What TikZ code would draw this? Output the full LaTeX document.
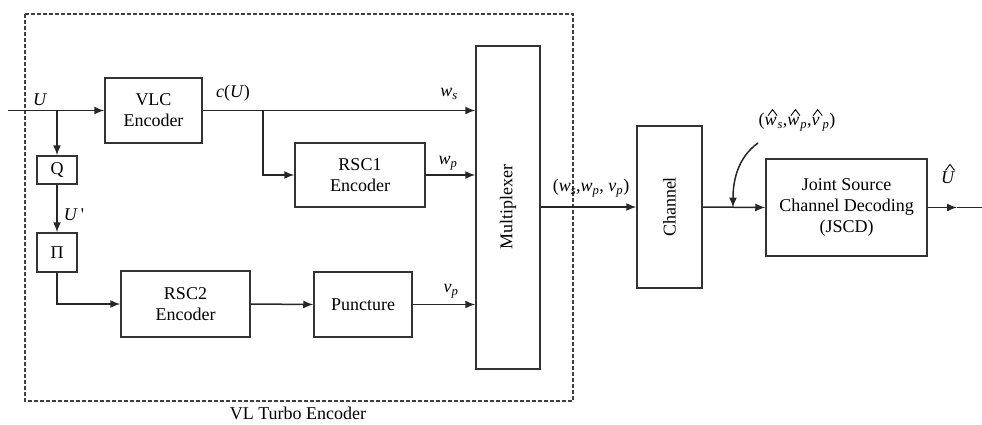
\documentclass[tikz,border=0pt]{standalone}
\usepackage{fontspec}
\setmainfont{Liberation Serif}
\newfontfamily\tnr{Liberation Serif}
\usetikzlibrary{arrows.meta}
\newcommand\iv[1]{\textit{#1}}
\newcommand\sbs[1]{\textsubscript{\textit{#1}}}
\newcommand\hatit[1]{\tikz[x=1pt,y=1pt,baseline=(h.base)]{\node[inner sep=0pt,font=\tnr\fontsize{18}{21}\selectfont](h){\textit{#1}};\draw[line width=0.9pt,line join=miter] ([xshift=-2.5pt,yshift=1.5pt]h.north) -- ++(4.5pt,6pt) -- ++(4.5pt,-6pt);}}
\begin{document}
\begin{tikzpicture}[x=1pt,y=-1pt,
  every node/.style={font=\tnr\fontsize{18}{21}\selectfont},
  box/.style={draw=black!80, line width=1.5pt, align=center, inner sep=0pt},
  ln/.style={draw=black!85, line width=1.5pt},
  arr/.style={ln, -{Latex[length=10pt,width=8pt]}},
  lbl/.style={inner sep=0pt}]
\useasboundingbox (0,0) rectangle (982,425);
% dashed frame
\draw[draw=black!75, line width=1.3pt, dash pattern=on 4pt off 2pt] (25,14) rectangle (573,401);
\node[lbl] (flab) at (298,413) {VL Turbo Encoder};
% boxes
\node[box, minimum width=97pt, minimum height=65pt] (vlc) at (153.5,110.5) {VLC\\Encoder};
\node[box, minimum width=40pt, minimum height=28pt] (q) at (57,170) {Q};
\node[box, minimum width=40pt, minimum height=39pt] (pi) at (57,252.5) {Π};
\node[box, minimum width=130pt, minimum height=64pt] (rsc1) at (360,175) {RSC1\\Encoder};
\node[box, minimum width=129pt, minimum height=66pt] (rsc2) at (185.5,304) {RSC2\\Encoder};
\node[box, minimum width=98pt, minimum height=65pt] (punc) at (363,304.5) {Puncture};
\node[box, minimum width=64pt, minimum height=323pt] (mux) at (508,207.5) {\rotatebox{90}{Multiplexer}};
\node[box, minimum width=65pt, minimum height=162pt] (chan) at (669.5,207) {\rotatebox{90}{Channel}};
\node[box, minimum width=161pt, minimum height=97pt] (jscd) at (846.5,207.5) {Joint Source\\Channel Decoding\\(JSCD)};
% coordinates
\coordinate (in) at (8,110.5);
\coordinate (b1) at (57,110.5);
\coordinate (b2) at (263,110.5);
\coordinate (omid) at (957,207.5);
\coordinate (oend) at (982,207.5);
\coordinate (cs) at (758,143);
\coordinate (ce) at (733,207.5);
% connectors
\draw[arr] (in) -- (vlc.west);
\draw[arr] (b1) -- (q.north);
\draw[arr] (q.south) -- (pi.north);
\draw[arr] (pi.south) |- (rsc2.west);
\draw[arr] (rsc2.east) -- (punc.west);
\draw[arr] (punc.east) -- (punc.east -| mux.west);
\draw[arr] (vlc.east) -- (vlc.east -| mux.west);
\draw[arr] (b2) |- (rsc1.west);
\draw[arr] (rsc1.east) -- (rsc1.east -| mux.west);
\draw[arr] (mux.east |- chan.west) -- (chan.west);
\draw[arr] (chan.east) -- (jscd.west);
\draw[arr] (jscd.east) -- (omid);
\draw[ln] (omid) -- (oend);
\draw[arr] (cs) .. controls (737,158) and (733,182) .. (ce);
% labels
\node[lbl] (lU) at (40,100) {\iv{U}};
\node[lbl] (lcU) at (233,93) {\iv{c}(\iv{U})};
\node[lbl] (lws) at (449,94) {\iv{w}\sbs{s}};
\node[lbl] (lwp) at (448,163) {\iv{w}\sbs{p}};
\node[lbl] (lvp) at (451,291) {\iv{v}\sbs{p}};
\node[lbl] (lUp) at (74,215) {\iv{U}\,'};
\node[lbl] (ltrip) at (591,188) {(\iv{w}\sbs{s},\iv{w}\sbs{p}, \iv{v}\sbs{p})};
\node[lbl] (lhat) at (797,120) {(\hatit{w}\sbs{s},\hatit{w}\sbs{p},\hatit{v}\sbs{p})};
\node[lbl] (lUh) at (948,174) {\hatit{U}};
\end{tikzpicture}
\end{document}
